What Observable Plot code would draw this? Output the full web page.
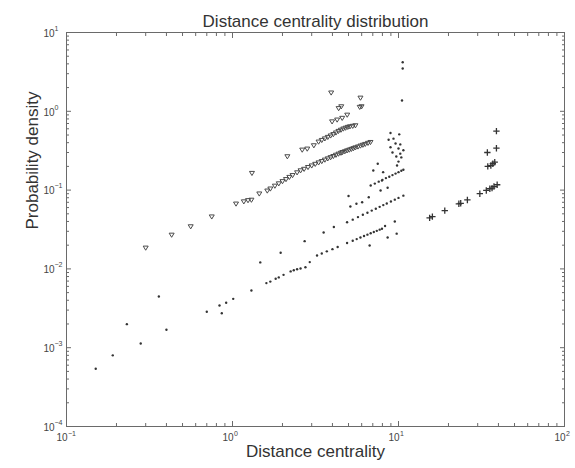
<!DOCTYPE html>
<html><head><meta charset="utf-8">
<script src="https://cdn.jsdelivr.net/npm/d3@7"></script>
<script src="https://cdn.jsdelivr.net/npm/@observablehq/plot@0.6"></script>
<style>body{margin:0;background:#fff} svg{display:block}</style>
</head><body><div id="chart"></div>
<script>
const title = "Distance centrality distribution";
const xLabel = "Distance centrality";
const yLabel = "Probability density";
const xMajor = [0.1, 1, 10, 100];
const xExp = ["\u22121", "0", "1", "2"];
const yMajor = [1e-4, 1e-3, 1e-2, 1e-1, 1, 10];
const yExp = ["\u22124", "\u22123", "\u22122", "\u22121", "0", "1"];
const minorMult = [2, 3, 4, 5, 6, 7, 8, 9];

// Series A: open down-triangles
const triX = [0.30,0.43,0.56,0.75,1.05,1.17,1.24,1.30,1.45,1.62,1.69,1.31,
  1.8,1.9,2.0,2.1,2.2,2.3,2.45,2.57,2.7,2.85,3.0,3.15,3.3,3.45,3.6,3.75,3.9,4.05,4.2,4.35,4.5,4.6,4.75,4.9,5.05,5.2,5.35,5.5,5.7,5.9,6.1,6.3,6.55,6.78,
  2.14,2.63,2.82,3.09,3.3,3.45,3.6,3.75,3.9,4.05,4.2,4.35,4.5,4.65,4.8,4.95,5.1,5.3,5.5,
  3.98,4.27,4.58,4.91,4.36,4.52,5.84,5.99,3.93,5.9];
const triY = [0.0185,0.027,0.0345,0.046,0.067,0.0715,0.074,0.075,0.090,0.098,0.104,0.164,
  0.113,0.121,0.129,0.137,0.146,0.154,0.167,0.177,0.185,0.195,0.204,0.214,0.223,0.232,0.242,0.251,0.26,0.269,0.279,0.288,0.296,0.302,0.309,0.317,0.324,0.331,0.338,0.346,0.355,0.365,0.374,0.383,0.395,0.405,
  0.267,0.324,0.334,0.368,0.41,0.43,0.45,0.47,0.49,0.51,0.535,0.56,0.58,0.6,0.615,0.63,0.64,0.65,0.66,
  0.74,0.78,0.82,0.90,1.09,1.15,1.13,1.15,1.72,1.48];

// Series B: small dots
const dotX = [0.15,0.19,0.231,0.28,0.36,0.40,0.70,0.835,0.862,0.916,1.01,1.30,1.47,1.6,1.69,1.82,1.90,2.03,2.24,2.34,2.45,2.57,2.75,2.92,1.95,2.72,
  3.23,3.45,3.7,4.0,4.3,4.9,5.3,5.6,5.9,6.2,6.5,6.8,7.1,7.4,7.7,7.95,
  3.54,4.08,6.7,8.3,9.5,8.6,9.75,
  4.9,5.3,5.7,6.1,6.5,6.9,7.3,7.7,8.1,8.5,9.0,9.5,10.0,10.7,
  5.0,5.13,5.58,6.04,6.62,7.05,7.5,8.08,7.95,8.6,7.8,
  6.8,7.2,7.6,8.0,8.4,8.8,9.2,9.6,10.0,10.4,10.7,
  8.95,10.1,8.72,9.33,9.6,10.25,8.95,10.0,10.7,9.2,10.25,9.7,10.4,9.8,10.0,
  10.6,10.6,10.5];
const dotY = [0.00054,0.0008,0.00199,0.00113,0.00447,0.00169,0.00286,0.00343,0.00274,0.00372,0.00417,0.00532,0.0121,0.0066,0.0069,0.0075,0.0078,0.0084,0.0093,0.0096,0.0099,0.0101,0.0105,0.0122,0.016,0.0225,
  0.0148,0.0157,0.0167,0.0178,0.019,0.0213,0.0228,0.0239,0.025,0.0261,0.0272,0.0283,0.0294,0.0304,0.0315,0.0323,
  0.029,0.034,0.0198,0.035,0.040,0.025,0.028,
  0.039,0.0422,0.0454,0.0486,0.0517,0.0549,0.0581,0.0613,0.0645,0.0677,0.0716,0.0756,0.0796,0.085,
  0.084,0.062,0.067,0.070,0.081,0.177,0.216,0.169,0.132,0.107,0.099,
  0.1144,0.121,0.128,0.135,0.142,0.148,0.155,0.162,0.169,0.176,0.181,
  0.53,0.51,0.435,0.45,0.39,0.38,0.35,0.337,0.32,0.30,0.29,0.267,0.26,0.205,0.23,
  4.2,3.5,1.37];

// Series C: plus markers
const plusX = [38.9,38.9,34.3,38,37,36,34.5,39.3,37.6,36.6,35.5,33.8,30.9,26,23.7,23.1,19.0,16.0,15.4];
const plusY = [0.56,0.34,0.30,0.226,0.216,0.205,0.2,0.117,0.111,0.106,0.104,0.099,0.09,0.075,0.068,0.067,0.055,0.046,0.0445];

const toPts = (xs, ys) => xs.map((x, i) => ({x, y: ys[i]}));
const tri = toPts(triX, triY);
const dots = toPts(dotX, dotY);
const plus = toPts(plusX, plusY);

const xMinor = xMajor.slice(0, -1).flatMap(d => minorMult.map(m => d * m));
const yMinor = yMajor.slice(0, -1).flatMap(d => minorMult.map(m => d * m));

const triDown = {
  draw(ctx, size) {
    const r = Math.sqrt(size / Math.PI);
    ctx.moveTo(-r, -0.7 * r);
    ctx.lineTo(r, -0.7 * r);
    ctx.lineTo(0, 0.95 * r);
    ctx.closePath();
  }
};

const axisColor = "#6a6a6a";
const tickOpts = {fill: "none", stroke: axisColor, label: null};

const chart = Plot.plot({
  width: 575,
  height: 468,
  marginLeft: 66,
  marginRight: 11,
  marginTop: 32,
  marginBottom: 42,
  style: {fontFamily: "'Liberation Sans', Arial, sans-serif", background: "#fff"},
  x: {type: "log", domain: [0.1, 100], axis: null},
  y: {type: "log", domain: [1e-4, 10], axis: null},
  marks: [
    Plot.axisX({...tickOpts, ticks: xMajor, anchor: "bottom", tickSize: 5, dy: -5}),
    Plot.axisX({...tickOpts, ticks: xMinor, anchor: "bottom", tickSize: 3, dy: -3}),
    Plot.axisX({...tickOpts, ticks: xMajor, anchor: "top", tickSize: 5, dy: 5}),
    Plot.axisX({...tickOpts, ticks: xMinor, anchor: "top", tickSize: 3, dy: 3}),
    Plot.axisY({...tickOpts, ticks: yMajor, anchor: "left", tickSize: 5, dx: 5}),
    Plot.axisY({...tickOpts, ticks: yMinor, anchor: "left", tickSize: 3, dx: 3}),
    Plot.axisY({...tickOpts, ticks: yMajor, anchor: "right", tickSize: 5, dx: -5}),
    Plot.axisY({...tickOpts, ticks: yMinor, anchor: "right", tickSize: 3, dx: -3}),
    Plot.frame({stroke: axisColor}),
    Plot.text(xMajor, {x: d => d, frameAnchor: "bottom", text: () => "10", textAnchor: "end", dx: 1, dy: 14, fontSize: 10, fill: "#444"}),
    Plot.text(xMajor, {x: d => d, frameAnchor: "bottom", text: (d, i) => xExp[i], textAnchor: "start", dx: 1.5, dy: 9, fontSize: 7, fill: "#444"}),
    Plot.text(yMajor, {y: d => d, frameAnchor: "left", text: () => "10", textAnchor: "end", dx: -12, dy: 1, fontSize: 10, fill: "#444"}),
    Plot.text(yMajor, {y: d => d, frameAnchor: "left", text: (d, i) => yExp[i], textAnchor: "start", dx: -12, dy: -4, fontSize: 7, fill: "#444"}),
    Plot.text([title], {text: d => d, frameAnchor: "top", dy: -18, fontSize: 17, fill: "#333"}),
    Plot.text([xLabel], {text: d => d, frameAnchor: "bottom", dy: 30, fontSize: 17, fill: "#333"}),
    Plot.text([yLabel], {text: d => d, frameAnchor: "left", dx: -34, rotate: -90, fontSize: 17, fill: "#333"}),
    Plot.dot(tri, {x: "x", y: "y", symbol: triDown, r: 2.5, fill: "none", stroke: "#4a4a4a", strokeWidth: 1}),
    Plot.dot(dots, {x: "x", y: "y", r: 1.2, fill: "#333", stroke: "none"}),
    Plot.dot(plus, {x: "x", y: "y", symbol: "plus", r: 2.2, stroke: "#333", strokeWidth: 1.3})
  ]
});
document.getElementById("chart").appendChild(chart);
</script>
</body></html>
